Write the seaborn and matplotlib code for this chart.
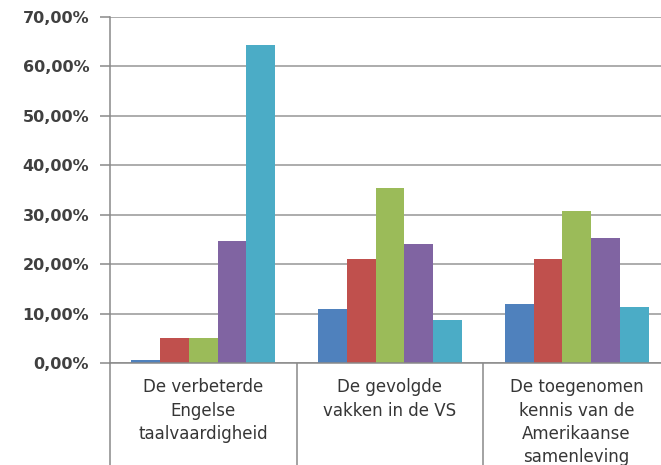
import numpy as np
import pandas as pd
import matplotlib
matplotlib.use('Agg')
import matplotlib.pyplot as plt
import seaborn as sb
from matplotlib.ticker import FuncFormatter

# Data
categories = ['De verbeterde\nEngelse\ntaalvaardigheid',
              'De gevolgde\nvakken in de VS',
              'De toegenomen\nkennis van de\nAmerikaanse\nsamenleving']
series = ['1', '2', '3', '4', '5']
values_1 = [0.6, 5.1, 5.1, 24.6, 64.4]
values_2 = [10.9, 21.0, 35.4, 24.0, 8.8]
values_3 = [11.9, 21.0, 30.8, 25.2, 11.4]
colors = ['#4F81BD', '#C0504D', '#9BBB59', '#8064A2', '#4BACC6']

rows = []
for cat, vals in zip(categories, [values_1, values_2, values_3]):
    for s, v in zip(series, vals):
        rows.append({'cat': cat, 'serie': s, 'pct': v})
df = pd.DataFrame(rows)

sb.set_style('white')
plt.rcParams['font.family'] = ['DejaVu Sans']

W, H = 661, 465
fig = plt.figure(figsize=(W / 100, H / 100), dpi=100)
left, right, top, bottom = 110, 670, 17, 363
ax = fig.add_axes([left / W, (H - bottom) / H, (right - left) / W, (bottom - top) / H])

sb.barplot(data=df, x='cat', y='pct', hue='serie', palette=colors,
           width=0.77, gap=0, saturation=1, legend=False, ax=ax,
           edgecolor='none', linewidth=0)

ax.set_xlim(-0.5, 2.5)
ax.set_ylim(0, 70)
ax.set_yticks(np.arange(0, 71, 10))
ax.yaxis.set_major_formatter(FuncFormatter(lambda v, p: f'{v:.2f}%'.replace('.', ',')))
ax.grid(axis='y', color='#969696', linewidth=1.1)
ax.set_axisbelow(True)
ax.set_xlabel('')
ax.set_ylabel('')

for side in ['top', 'right']:
    ax.spines[side].set_visible(False)
for side in ['left', 'bottom']:
    ax.spines[side].set_color('#898989')
    ax.spines[side].set_linewidth(1.1)

# category separators running down below the axis
ax.set_xticks([-0.5, 0.5, 1.5, 2.5], minor=True)
ax.tick_params(axis='x', which='minor', bottom=True, length=80, width=1.1,
               color='#898989', direction='out')
ax.tick_params(axis='x', which='major', bottom=True, length=0, pad=11,
               labelsize=12, labelcolor='#363636')
ax.tick_params(axis='y', left=True, length=7, width=1.1, color='#898989', pad=8,
               labelsize=11.5, labelcolor='#404040')
for lab in ax.get_xticklabels():
    lab.set_linespacing(1.38)
    lab.set_ha('center')
for lab in ax.get_yticklabels():
    lab.set_fontweight('bold')

fig.savefig('out.png', dpi=100)
